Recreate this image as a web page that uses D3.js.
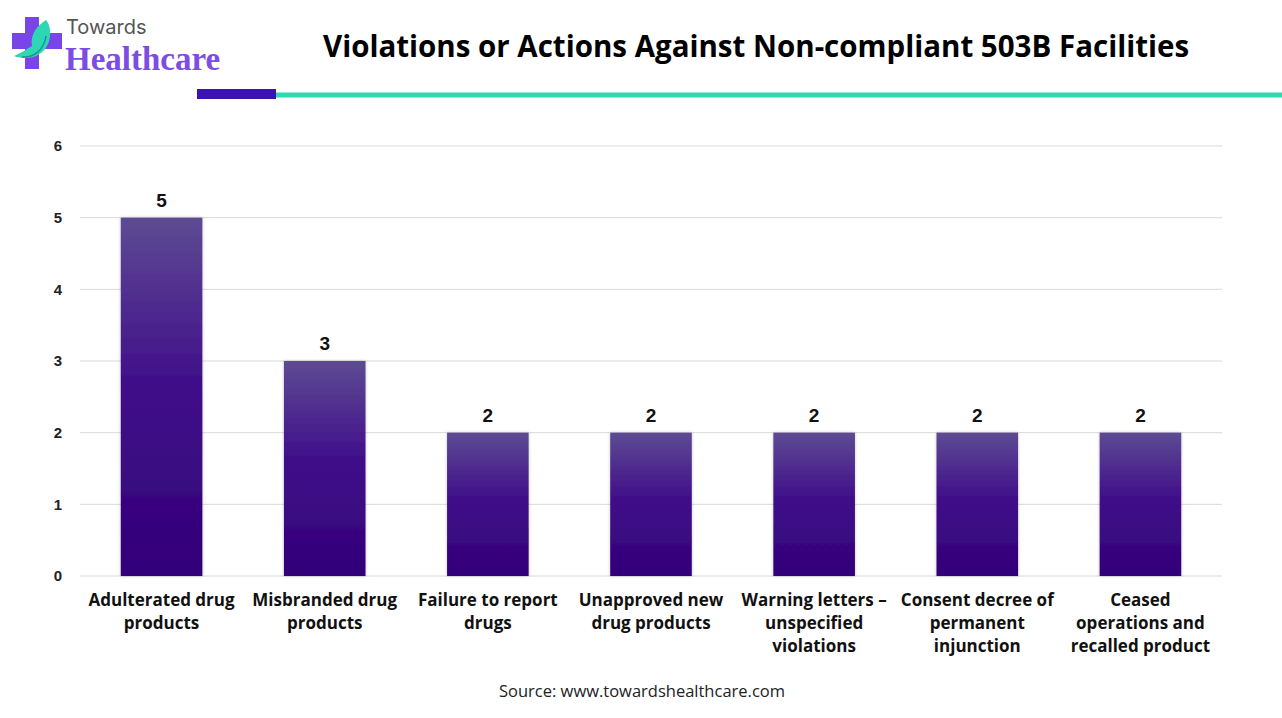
<!DOCTYPE html>
<html>
<head>
<meta charset="utf-8">
<script src="https://cdn.jsdelivr.net/npm/d3@7"></script>
<style>
  body { margin: 0; background: #fff; }
  svg { display: block; }
</style>
</head>
<body>
<div id="chart"></div>
<script>
// chart data
var categories = [
  ["Adulterated drug", "products"],
  ["Misbranded drug", "products"],
  ["Failure to report", "drugs"],
  ["Unapproved new", "drug products"],
  ["Warning letters \u2013", "unspecified", "violations"],
  ["Consent decree of", "permanent", "injunction"],
  ["Ceased", "operations and", "recalled product"]
];
var values = [5, 3, 2, 2, 2, 2, 2];
var yTicks = [0, 1, 2, 3, 4, 5, 6];

var W = 1282, H = 718;
var margin = { left: 80, right: 60, top: 146, bottom: 142 };

var svg = d3.select('#chart').append('svg')
  .attr('width', W)
  .attr('height', H);

var defs = svg.append('defs');
var grad = defs.append('linearGradient')
  .attr('id', 'barGrad')
  .attr('x1', 0).attr('y1', 0).attr('x2', 0).attr('y2', 1);
grad.append('stop').attr('offset', '0%').attr('stop-color', '#5d4b93');
grad.append('stop').attr('offset', '45%').attr('stop-color', '#41108a');
grad.append('stop').attr('offset', '100%').attr('stop-color', '#320078');

var shadow = defs.append('filter').attr('id', 'shadow')
  .attr('x', '-10%').attr('y', '-5%').attr('width', '120%').attr('height', '110%');
shadow.append('feDropShadow')
  .attr('dx', 0).attr('dy', 0).attr('stdDeviation', 1.5)
  .attr('flood-color', '#000').attr('flood-opacity', 0.25);

// logo
var logo = svg.append('g');
logo.append('rect').attr('x', 25).attr('y', 17).attr('width', 14).attr('height', 52).attr('fill', '#7a45e6');
logo.append('rect').attr('x', 12).attr('y', 33).attr('width', 50).attr('height', 16).attr('fill', '#7a45e6');
logo.append('path')
  .attr('d', 'M14,56 C30,62 48,55 50,36 C51,28 48,22 46,20 C36,26 30,36 32,46 C26,50 20,53 14,56 Z')
  .attr('fill', '#2ed7b4');
logo.append('path')
  .attr('d', 'M22,57 C34,58 44,50 46,36')
  .attr('fill', 'none').attr('stroke', '#1f8f9a').attr('stroke-width', 1.5);
logo.append('text')
  .attr('x', 66).attr('y', 34)
  .attr('font-family', 'Inter, "Open Sans", sans-serif')
  .attr('font-size', 20)
  .attr('fill', '#555')
  .text('Towards');
logo.append('text')
  .attr('x', 65).attr('y', 70)
  .attr('font-family', '"Liberation Serif", serif')
  .attr('font-weight', 'bold')
  .attr('font-size', 33)
  .attr('fill', '#7b4de4')
  .text('Healthcare');

// title
svg.append('text')
  .attr('x', 756).attr('y', 57)
  .attr('text-anchor', 'middle')
  .attr('font-family', '"Open Sans", sans-serif')
  .attr('font-weight', 'bold')
  .attr('font-size', 29.5)
  .attr('fill', '#000')
  .text('Violations or Actions Against Non-compliant 503B Facilities');

// header rules
svg.append('rect').attr('x', 276).attr('y', 92.5).attr('width', W - 276).attr('height', 5).attr('fill', '#2fd9b0');
svg.append('rect').attr('x', 197).attr('y', 89).attr('width', 79).attr('height', 10).attr('fill', '#3a13b0');

// scales
var x = d3.scaleBand()
  .domain(d3.range(categories.length))
  .range([margin.left, W - margin.right])
  .paddingInner(0.5)
  .paddingOuter(0.25);

var y = d3.scaleLinear()
  .domain([0, 6])
  .range([H - margin.bottom, margin.top]);

// gridlines
svg.append('g')
  .selectAll('line')
  .data(yTicks)
  .join('line')
  .attr('x1', margin.left).attr('x2', W - margin.right)
  .attr('y1', d => y(d)).attr('y2', d => y(d))
  .attr('stroke', '#d9d9d9')
  .attr('stroke-width', 1);

// y axis labels
var yAxis = svg.append('g')
  .attr('transform', 'translate(' + (margin.left - 15) + ',0)')
  .call(d3.axisLeft(y).tickValues(yTicks).tickSize(0).tickFormat(d3.format('d')));
yAxis.select('.domain').remove();
yAxis.selectAll('text')
  .attr('font-family', '"Liberation Sans", Arial, sans-serif')
  .attr('font-weight', 'bold')
  .attr('font-size', 15)
  .attr('fill', '#222');

// bars
svg.append('g')
  .selectAll('rect')
  .data(values)
  .join('rect')
  .attr('x', (d, i) => x(i))
  .attr('y', d => y(d))
  .attr('width', x.bandwidth())
  .attr('height', d => y(0) - y(d))
  .attr('fill', 'url(#barGrad)')
  .attr('filter', 'url(#shadow)');

// value labels
svg.append('g')
  .selectAll('text')
  .data(values)
  .join('text')
  .attr('x', (d, i) => x(i) + x.bandwidth() / 2)
  .attr('y', d => y(d) - 11)
  .attr('text-anchor', 'middle')
  .attr('font-family', '"Liberation Sans", Arial, sans-serif')
  .attr('font-weight', 'bold')
  .attr('font-size', 19)
  .attr('fill', '#111')
  .text(d => d);

// category labels
var catG = svg.append('g')
  .selectAll('text')
  .data(categories)
  .join('text')
  .attr('x', (d, i) => x(i) + x.bandwidth() / 2)
  .attr('y', 606)
  .attr('text-anchor', 'middle')
  .attr('font-family', '"Open Sans", sans-serif')
  .attr('font-weight', 'bold')
  .attr('font-size', 17)
  .attr('fill', '#111');
catG.selectAll('tspan')
  .data(d => d)
  .join('tspan')
  .attr('x', function() { return d3.select(this.parentNode).attr('x'); })
  .attr('dy', (d, i) => i === 0 ? 0 : 23)
  .text(d => d);

// source
svg.append('text')
  .attr('x', 642).attr('y', 697)
  .attr('text-anchor', 'middle')
  .attr('font-family', '"Open Sans", sans-serif')
  .attr('font-size', 16.5)
  .attr('fill', '#222')
  .text('Source: www.towardshealthcare.com');
</script>
</body>
</html>
